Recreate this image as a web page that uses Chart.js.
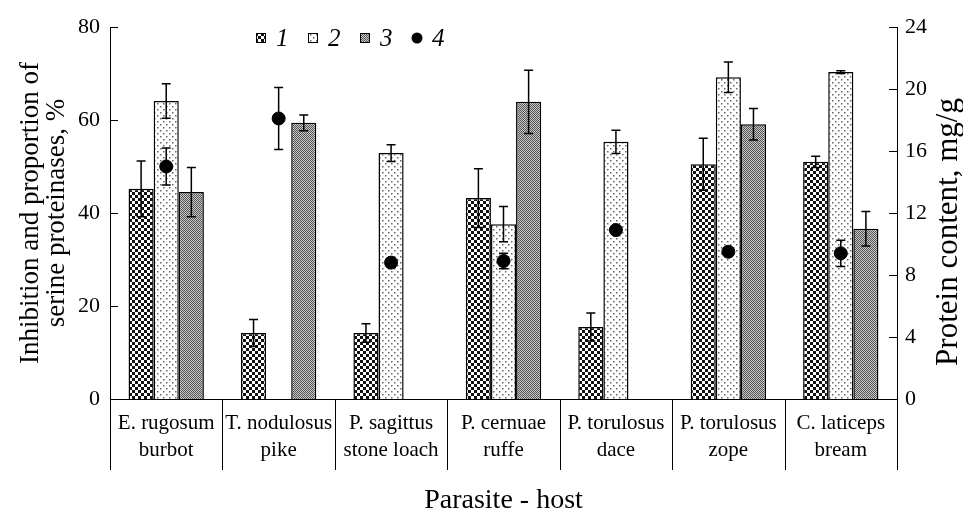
<!DOCTYPE html>
<html>
<head>
<meta charset="utf-8">
<script src="https://cdn.jsdelivr.net/npm/chart.js@4.4.0/dist/chart.umd.min.js"></script>
<style>
  html, body { margin: 0; padding: 0; background: #fff; }
  #wrap { width: 963px; height: 519px; }
</style>
</head>
<body>
<div id="wrap"><canvas id="myChart" width="963" height="519"></canvas></div>
<script>
// parasite - host pairs
const categories = [
    ['E. rugosum', 'burbot'],
    ['T. nodulosus', 'pike'],
    ['P. sagittus', 'stone loach'],
    ['P. cernuae', 'ruffe'],
    ['P. torulosus', 'dace'],
    ['P. torulosus', 'zope'],
    ['C. laticeps', 'bream']
];
const legendLabels = ['1', '2', '3', '4'];

// series 1-3: left axis, %
const series1 = [45.2, 14.2, 14.2, 43.2, 15.5, 50.5, 51.0];
const err1    = [6.0, 2.9, 2.0, 6.3, 3.0, 5.6, 1.2];
const series2 = [64.1, null, 52.9, 37.6, 55.3, 69.2, 70.3];
const err2    = [3.7, 0, 1.8, 3.8, 2.5, 3.3, 0.3];
const series3 = [44.5, 59.4, null, 63.9, null, 59.1, 36.6];
const err3    = [5.3, 1.7, 0, 6.8, 0, 3.4, 3.7];
// series 4: right axis, mg/g
const series4 = [15.0, 18.1, 8.8, 8.9, 10.9, 9.5, 9.4];
const err4    = [1.2, 2.0, 0.3, 0.5, 0, 0, 0.85];

const leftTicks = [0, 20, 40, 60, 80];
const rightTicks = [0, 4, 8, 12, 16, 20, 24];
const rightTitle = 'Protein content, mg/g';

const serif = 'Liberation Serif';

function makePattern(size, draw) {
    const c = document.createElement('canvas');
    c.width = size; c.height = size;
    const g = c.getContext('2d');
    draw(g);
    return g.createPattern(c, 'repeat');
}
const ctx = document.getElementById('myChart').getContext('2d');
// coarse black checker
const pat1 = makePattern(6, g => {
    g.fillStyle = '#fff'; g.fillRect(0, 0, 6, 6);
    g.fillStyle = '#111'; g.fillRect(0, 0, 3, 3); g.fillRect(3, 3, 3, 3);
});
// sparse dots
const pat2 = makePattern(6, g => {
    g.fillStyle = '#fff'; g.fillRect(0, 0, 6, 6);
    g.fillStyle = '#666'; g.fillRect(1, 1, 1.5, 1.5); g.fillRect(4, 4, 1.5, 1.5);
});
// fine grey checker
const pat3 = makePattern(2, g => {
    g.fillStyle = '#c8c8c8'; g.fillRect(0, 0, 2, 2);
    g.fillStyle = '#555'; g.fillRect(0, 0, 1, 1); g.fillRect(1, 1, 1, 1);
});
const patterns = [pat1, pat2, pat3];
const errs = [err1, err2, err3, err4];

// error bars for every dataset
const errorBars = {
    id: 'errorBars',
    afterDatasetsDraw(chart) {
        const c = chart.ctx;
        c.save();
        c.strokeStyle = '#000';
        c.lineWidth = 1.5;
        chart.data.datasets.forEach((ds, di) => {
            const meta = chart.getDatasetMeta(di);
            const scale = chart.scales[meta.yAxisID];
            meta.data.forEach((el, i) => {
                const v = ds.data[i], e = errs[di][i];
                if (v == null || !e) return;
                const x = el.x;
                const yt = scale.getPixelForValue(v + e);
                const yb = scale.getPixelForValue(v - e);
                c.beginPath();
                c.moveTo(x, yt); c.lineTo(x, yb);
                c.moveTo(x - 4.5, yt); c.lineTo(x + 4.5, yt);
                c.moveTo(x - 4.5, yb); c.lineTo(x + 4.5, yb);
                c.stroke();
            });
        });
        c.restore();
    }
};

// inward tick marks on both value axes, category dividers below x axis,
// and the right axis title reading bottom-to-top
const axisMarks = {
    id: 'axisMarks',
    afterDraw(chart) {
        const c = chart.ctx;
        const area = chart.chartArea;
        c.save();
        c.strokeStyle = '#000';
        c.lineWidth = 1;
        const y = chart.scales.y, y1 = chart.scales.y1, x = chart.scales.x;
        leftTicks.forEach(t => {
            const p = Math.round(y.getPixelForValue(t)) + 0.5;
            c.beginPath(); c.moveTo(area.left, p); c.lineTo(area.left + 8, p); c.stroke();
        });
        rightTicks.forEach(t => {
            const p = Math.round(y1.getPixelForValue(t)) + 0.5;
            c.beginPath(); c.moveTo(area.right - 8, p); c.lineTo(area.right, p); c.stroke();
        });
        for (let i = 0; i <= categories.length; i++) {
            const p = Math.round(x.getPixelForValue(i - 0.5)) + 0.5;
            c.beginPath(); c.moveTo(p, area.bottom); c.lineTo(p, area.bottom + 71); c.stroke();
        }
        c.translate(y1.right - 14, (area.top + area.bottom) / 2 + 19);
        c.rotate(-Math.PI / 2);
        c.fillStyle = '#000';
        c.font = '31px "' + serif + '"';
        c.textAlign = 'center';
        c.textBaseline = 'middle';
        c.fillText(rightTitle, 0, 0);
        c.restore();
    }
};

// legend inside the plot: pattern boxes + italic numbers
const topLegend = {
    id: 'topLegend',
    afterDraw(chart) {
        const c = chart.ctx;
        c.save();
        const x0 = 256, step = 52, yc = 38;
        legendLabels.forEach((lab, i) => {
            const x = x0 + i * step;
            if (i < 3) {
                c.fillStyle = patterns[i];
                c.fillRect(x, yc - 5, 10, 10);
                c.strokeStyle = '#000'; c.lineWidth = 1;
                c.strokeRect(x + 0.5, yc - 4.5, 9, 9);
            } else {
                c.fillStyle = '#000';
                c.beginPath(); c.arc(x + 5, yc, 5.5, 0, Math.PI * 2); c.fill();
            }
            c.fillStyle = '#000';
            c.font = 'italic 25px "' + serif + '"';
            c.textBaseline = 'middle';
            c.fillText(lab, x + 20, yc + 1);
        });
        c.restore();
    }
};

const barDefaults = {
    type: 'bar',
    borderColor: '#000',
    borderWidth: 1.5,
    yAxisID: 'y',
    categoryPercentage: 0.67,
    barPercentage: 1.0
};

const myChart = new Chart(ctx, {
    data: {
        labels: categories,
        datasets: [
            Object.assign({ label: '1', data: series1, backgroundColor: pat1, order: 2 }, barDefaults),
            Object.assign({ label: '2', data: series2, backgroundColor: pat2, order: 2 }, barDefaults),
            Object.assign({ label: '3', data: series3, backgroundColor: pat3, order: 2 }, barDefaults),
            {
                type: 'line',
                label: '4',
                data: series4,
                yAxisID: 'y1',
                showLine: false,
                pointRadius: 6.5,
                pointHoverRadius: 6.5,
                pointBackgroundColor: '#000',
                pointBorderColor: '#000',
                order: 1
            }
        ]
    },
    options: {
        responsive: false,
        animation: false,
        layout: { padding: { top: 27, left: 0, right: 0, bottom: 0 } },
        plugins: {
            legend: { display: false },
            tooltip: { enabled: false }
        },
        scales: {
            x: {
                grid: { display: false, drawTicks: false },
                border: { display: true, color: '#000', width: 1 },
                ticks: {
                    color: '#000',
                    padding: 11,
                    maxRotation: 0,
                    autoSkip: false,
                    font: { family: serif, size: 21, lineHeight: 1.3 }
                },
                title: {
                    display: true,
                    text: 'Parasite - host',
                    color: '#000',
                    padding: { top: 0, bottom: 2 },
                    font: { family: serif, size: 28 }
                },
                afterFit: (s) => { s.height = 120; }
            },
            y: {
                position: 'left',
                min: 0,
                max: 80,
                afterBuildTicks: (s) => { s.ticks = leftTicks.map(v => ({ value: v })); },
                grid: { display: false, drawTicks: false },
                border: { display: true, color: '#000', width: 1 },
                ticks: {
                    color: '#000',
                    padding: 10,
                    font: { family: serif, size: 22 }
                },
                title: {
                    display: true,
                    text: ['Inhibition and proportion of', 'serine proteinases, %'],
                    color: '#000',
                    padding: { top: 18, bottom: 0 },
                    font: { family: serif, size: 27, lineHeight: 0.95 }
                },
                afterFit: (s) => { s.width = 110; }
            },
            y1: {
                position: 'right',
                min: 0,
                max: 24,
                afterBuildTicks: (s) => { s.ticks = rightTicks.map(v => ({ value: v })); },
                grid: { display: false, drawTicks: false },
                border: { display: true, color: '#000', width: 1 },
                ticks: {
                    color: '#000',
                    padding: 8,
                    font: { family: serif, size: 22 }
                },
                title: { display: false },
                afterFit: (s) => { s.width = 66; }
            }
        }
    },
    plugins: [errorBars, axisMarks, topLegend]
});
</script>
</body>
</html>
